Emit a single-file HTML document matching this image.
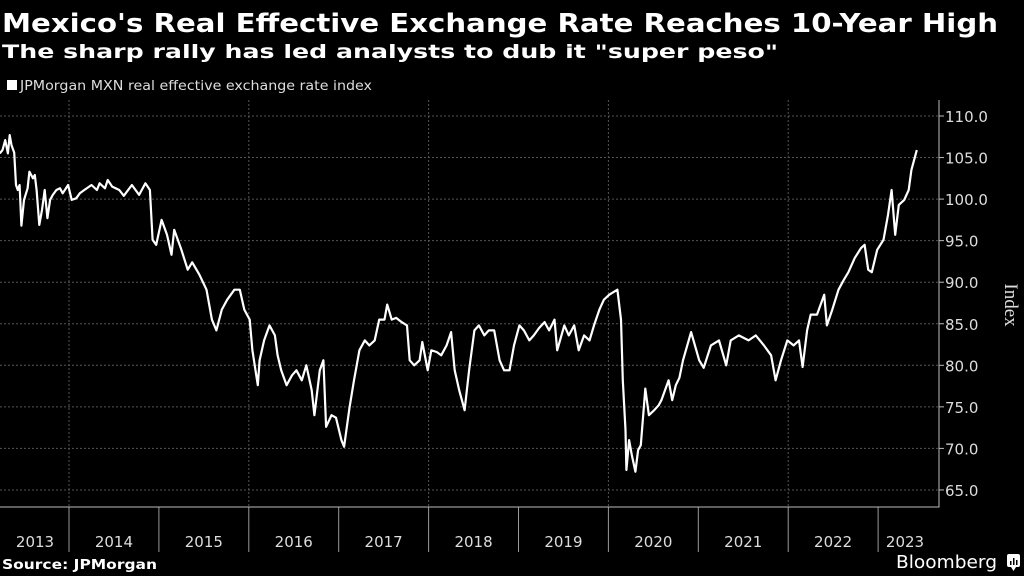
<!DOCTYPE html>
<html><head><meta charset="utf-8"><style>
html,body{margin:0;padding:0;background:#000;}
svg{display:block;}
</style></head><body>
<svg id="chart" width="1024" height="576" viewBox="0 0 1024 576" xmlns="http://www.w3.org/2000/svg" font-family="'DejaVu Sans','Liberation Sans',sans-serif">
<rect width="1024" height="576" fill="#000"/>
<text x="2" y="32" fill="#fff" font-weight="bold" font-size="26" textLength="996" lengthAdjust="spacingAndGlyphs">Mexico's Real Effective Exchange Rate Reaches 10-Year High</text>
<text x="2" y="58" fill="#fff" font-weight="bold" font-size="19" textLength="776" lengthAdjust="spacingAndGlyphs">The sharp rally has led analysts to dub it "super peso"</text>
<rect x="7" y="80" width="10" height="10" fill="#fff"/>
<text x="20" y="90" fill="#ddd" font-size="13" textLength="352" lengthAdjust="spacingAndGlyphs">JPMorgan MXN real effective exchange rate index</text>
<g id="grid"></g>
<g id="axes"></g>
<path id="line" fill="none" stroke="#fff" stroke-width="2.2" stroke-linejoin="round"/>
<text transform="translate(1005,305) rotate(90)" fill="#ddd" font-size="19" text-anchor="middle" font-family="'Liberation Serif',serif">Index</text>
<text x="2" y="569" fill="#fff" font-weight="bold" font-size="13" textLength="155" lengthAdjust="spacingAndGlyphs">Source: JPMorgan</text>
<text x="896" y="568" fill="#fff" font-size="18" textLength="101" lengthAdjust="spacingAndGlyphs">Bloomberg</text>
<g><rect x="1007" y="554" width="13" height="13" rx="2" fill="#fff"/><path d="M1011,567 l2.5,4 l2.5,-4z" fill="#fff"/><rect x="1010" y="561" width="1.5" height="4" fill="#000"/><rect x="1013" y="558" width="1.5" height="7" fill="#000"/><rect x="1016" y="560" width="1.5" height="5" fill="#000"/></g>
</svg>
<script>
const dates=[2013.23,2013.26,2013.29,2013.32,2013.34,2013.36,2013.39,2013.41,2013.43,2013.45,2013.47,2013.50,2013.54,2013.56,2013.60,2013.62,2013.64,2013.67,2013.70,2013.73,2013.76,2013.79,2013.82,2013.86,2013.90,2013.93,2013.99,2014.03,2014.08,2014.12,2014.17,2014.25,2014.31,2014.34,2014.40,2014.43,2014.48,2014.56,2014.61,2014.70,2014.78,2014.85,2014.90,2014.93,2014.97,2015.03,2015.09,2015.14,2015.17,2015.25,2015.32,2015.37,2015.45,2015.53,2015.59,2015.64,2015.70,2015.76,2015.84,2015.90,2015.95,2016.01,2016.04,2016.10,2016.12,2016.17,2016.23,2016.29,2016.32,2016.36,2016.42,2016.48,2016.53,2016.59,2016.64,2016.70,2016.73,2016.79,2016.83,2016.86,2016.92,2016.97,2017.03,2017.06,2017.12,2017.17,2017.23,2017.29,2017.34,2017.40,2017.45,2017.51,2017.54,2017.59,2017.64,2017.70,2017.76,2017.79,2017.84,2017.90,2017.93,2017.99,2018.03,2018.09,2018.14,2018.20,2018.25,2018.29,2018.34,2018.40,2018.45,2018.51,2018.56,2018.62,2018.67,2018.73,2018.79,2018.84,2018.90,2018.95,2019.01,2019.06,2019.12,2019.17,2019.23,2019.29,2019.34,2019.40,2019.43,2019.51,2019.56,2019.62,2019.67,2019.73,2019.79,2019.84,2019.90,2019.95,2020.01,2020.10,2020.14,2020.16,2020.19,2020.20,2020.23,2020.26,2020.30,2020.33,2020.36,2020.40,2020.41,2020.45,2020.51,2020.56,2020.59,2020.65,2020.67,2020.71,2020.75,2020.79,2020.83,2020.92,2021.01,2021.06,2021.14,2021.23,2021.31,2021.36,2021.45,2021.56,2021.64,2021.73,2021.81,2021.86,2021.92,2021.99,2022.06,2022.12,2022.16,2022.21,2022.25,2022.32,2022.40,2022.43,2022.49,2022.56,2022.62,2022.67,2022.74,2022.81,2022.85,2022.89,2022.93,2022.99,2023.06,2023.11,2023.15,2023.19,2023.23,2023.29,2023.34,2023.37,2023.43];
const values=[105.5,105.9,107.1,105.5,107.7,106.5,105.6,101.7,101.1,101.7,96.8,99.9,101.3,103.3,102.5,102.9,101.1,96.9,98.7,101.1,97.7,99.9,100.5,101.1,101.3,100.7,101.7,99.9,100.1,100.7,101.1,101.7,101.1,101.9,101.3,102.3,101.5,101.1,100.4,101.7,100.5,101.9,101.1,95.1,94.5,97.5,95.7,93.3,96.3,93.9,91.5,92.4,90.9,89.1,85.5,84.2,86.7,87.9,89.1,89.1,86.7,85.5,81.8,77.6,80.6,83.0,84.8,83.6,81.2,79.4,77.6,78.8,79.4,78.2,80.0,77.0,74.0,79.4,80.6,72.6,74.0,73.7,71.0,70.2,74.9,78.2,81.8,83.0,82.4,83.0,85.5,85.5,87.3,85.5,85.7,85.2,84.8,80.6,80.0,80.6,82.8,79.4,81.8,81.6,81.2,82.4,84.0,79.4,77.0,74.6,79.4,84.2,84.8,83.6,84.2,84.2,80.6,79.4,79.4,82.4,84.8,84.2,83.0,83.6,84.5,85.2,84.2,85.5,81.8,84.8,83.6,84.8,81.8,83.6,83.0,84.8,86.7,87.9,88.5,89.1,85.5,78.2,72.2,67.4,71.0,69.2,67.2,69.8,70.4,75.8,77.2,74.0,74.6,75.2,75.8,77.6,78.2,75.8,77.6,78.5,80.6,84.0,80.6,79.7,82.4,83.0,80.0,83.0,83.6,83.0,83.6,82.4,81.2,78.2,80.6,83.0,82.4,83.0,79.8,84.2,86.1,86.1,88.5,84.8,86.7,89.1,90.3,91.2,92.9,94.1,94.5,91.5,91.2,93.9,95.1,98.1,101.1,95.7,99.3,99.9,101.1,103.5,105.9];
const yTicks=[65,70,75,80,85,90,95,100,105,110];
const yearLabels=[2013,2014,2015,2016,2017,2018,2019,2020,2021,2022,2023];

const NS='http://www.w3.org/2000/svg';
const X0=69, PX=89.9, Y0=116, PY=8.31, AXR=939, AXB=507;
function xs(d){return X0+(d-2014)*PX;}
function ys(v){return Y0+(110-v)*PY;}
function mk(tag,attrs,parent){const e=document.createElementNS(NS,tag);for(const k in attrs)e.setAttribute(k,attrs[k]);parent.appendChild(e);return e;}
const grid=document.getElementById('grid'), axes=document.getElementById('axes');
yTicks.forEach(t=>{
  const y=ys(t);
  const g=mk('line',{x1:0,x2:AXR,y1:y,y2:y,stroke:'#555','stroke-dasharray':'2,2','stroke-width':1},grid);
  
  
  const tk=mk('line',{x1:AXR,x2:AXR+5,y1:y,y2:y,stroke:'#bbb','stroke-width':1},axes);
  
  
  const tx=mk('text',{x:AXR+6,y:y+6,fill:'#ddd','font-size':15},axes);
  tx.textContent=t.toFixed(1);
  
  
});
yearLabels.forEach((yr,i)=>{
  if(yr>2013){
    const x=xs(yr);
    if((yr-2014)%2===0){
      const v=mk('line',{x1:x,x2:x,y1:100,y2:AXB,stroke:'#555','stroke-dasharray':'2,2','stroke-width':1},grid);
      
      
    }
    const tk=mk('line',{x1:x,x2:x,y1:AXB,y2:552,stroke:'#999','stroke-width':1},axes);
    
    
  }
  const left=yr===2013?0:xs(yr);
  const right=yr===2023?AXR:xs(yr+1);
  const cx=yr===2013?35:(yr===2023?905:(left+right)/2);
  const t=mk('text',{x:cx,y:547,fill:'#ddd','font-size':15,'text-anchor':'middle'},axes);
  t.textContent=yr;
  
  
});
const ax=mk('path',{d:`M0,${AXB}H${AXR}V100`,fill:'none',stroke:'#bbb','stroke-width':1},axes);


let d='';
dates.forEach((dt,i)=>{d+=(i?'L':'M')+xs(dt).toFixed(1)+','+ys(values[i]).toFixed(1);});
document.getElementById('line').setAttribute('d',d);
</script>
</body></html>
